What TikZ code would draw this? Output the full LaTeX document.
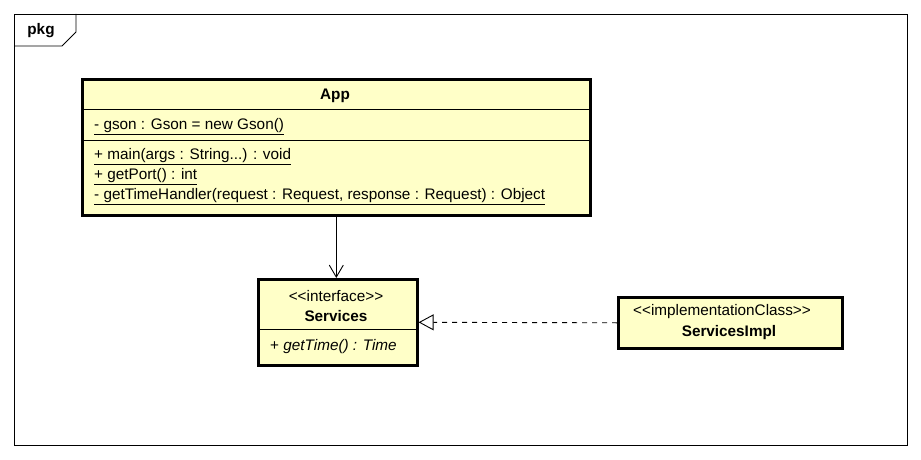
\documentclass[tikz,border=0pt]{standalone}
\usepackage{fontspec}
\setmainfont{Liberation Sans}
\usetikzlibrary{arrows.meta}
\definecolor{umlfill}{HTML}{FFFFC8}
\tikzset{
  box/.style={draw=black, line width=2.6pt, fill=umlfill, anchor=north west, inner sep=0pt},
  txt/.style={inner sep=0pt, font=\fontsize{15.3}{17}\selectfont},
  btxt/.style={inner sep=0pt, font=\fontsize{15.3}{17}\selectfont\bfseries},
  sep/.style={line width=0.9pt},
}
\begin{document}
\begin{tikzpicture}[x=1pt,y=-1pt]
\useasboundingbox (0,0) rectangle (921,460);
% package frame
\draw[line width=0.9pt] (14,14) rectangle (907,445);
\draw[line width=0.9pt] (76,14) -- (76,32) -- (62,46) -- (14,46);
\node[btxt] (pkg) at (41,31) {pkg};
% App
\node[box, minimum width=508pt, minimum height=136pt] (app) at (81,78) {};
\draw[sep] (81,109) -- (589,109);
\draw[sep] (81,140) -- (589,140);
\node[btxt] (appname) at (335,96) {App};
\node[txt, anchor=west] (a1) at (94,127) {\underline{- gson : Gson = new Gson()}};
\node[txt, anchor=west] (m1) at (94,157) {\underline{+ main(args : String...) : void}};
\node[txt, anchor=west] (m2) at (94,177) {\underline{+ getPort() : int}};
\node[txt, anchor=west] (m3) at (94,197) {\underline{- getTimeHandler(request : Request, response : Request) : Object}};
% Services
\node[box, minimum width=159pt, minimum height=86pt] (srv) at (257,278) {};
\draw[sep] (257,329) -- (416,329);
\node[txt] (srvst) at (336,296) {{<}{<}interface{>}{>}};
\node[btxt] (srvname) at (336,316) {Services};
\node[txt, anchor=west] (op1) at (270,347) {+ \textit{getTime() : Time}};
% ServicesImpl
\node[box, minimum width=224pt, minimum height=51pt] (impl) at (617,296) {};
\node[txt] (implst) at (722,312) {{<}{<}implementationClass{>}{>}};
\node[btxt] (implname) at (729,333) {ServicesImpl};
% connectors
\draw[line width=0.9pt, -{Straight Barb[length=12pt,width=14pt]}] (app.south) -- (app.south |- srv.north);
\draw[line width=0.9pt, dashed, dash pattern=on 5pt off 5pt, -{Triangle[open, length=15pt, width=16pt, fill=white]}] (impl.west) -- (srv.east);
\end{tikzpicture}
\end{document}
